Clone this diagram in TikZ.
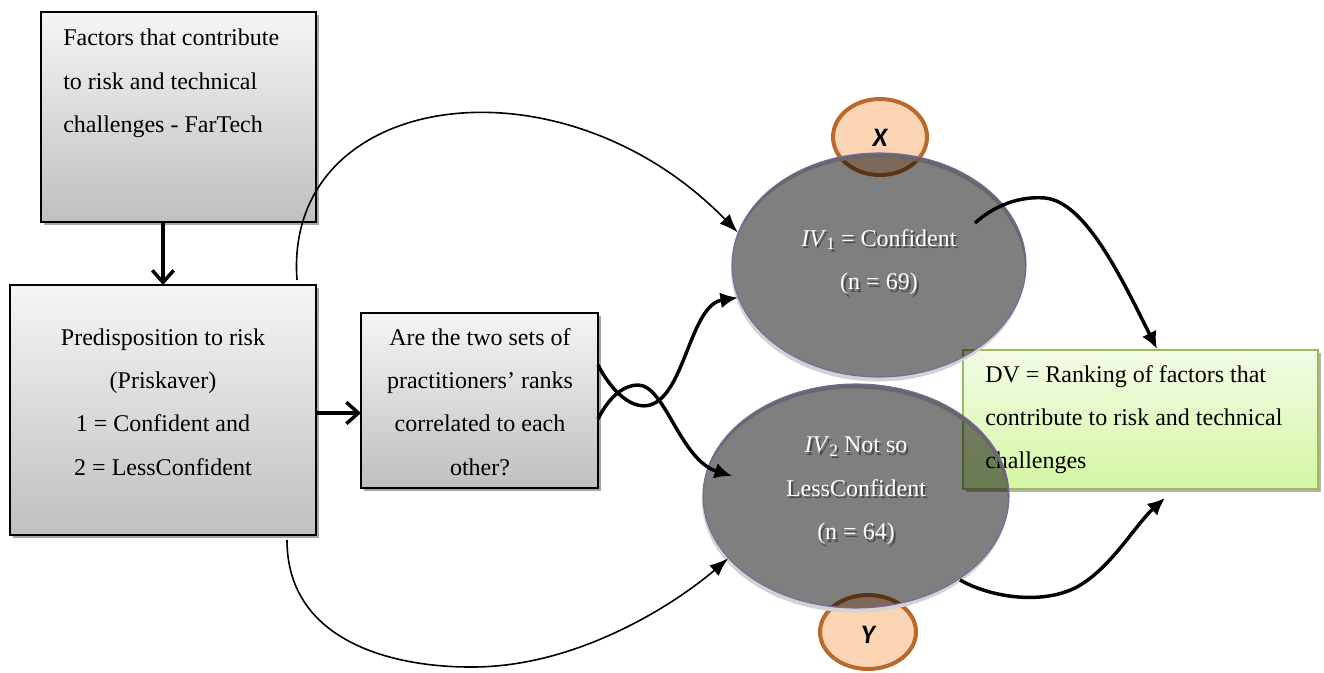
\documentclass[tikz,border=0pt]{standalone}
\usepackage{fontspec}
\setmainfont{Liberation Serif}
\newfontfamily\labelfont{Carlito}
\usetikzlibrary{arrows.meta,shadows,shapes.geometric}

\definecolor{ivpurple}{HTML}{8064A2}
\definecolor{peach}{HTML}{FBD4B4}
\definecolor{rust}{HTML}{B8692B}
\definecolor{olive}{HTML}{9BBB59}
\definecolor{limetop}{HTML}{F2FCE6}
\definecolor{limebot}{HTML}{D4F6A2}

\newcommand{\ivsub}[1]{\textit{IV}\raisebox{-0.3ex}{\fontsize{13}{13}\selectfont #1}}

\begin{document}
\begin{tikzpicture}[x=0.75pt,y=-0.75pt,
  box/.style={draw=black, line width=1.3pt, inner sep=0pt, outer sep=0pt,
    top color=gray!8, bottom color=gray!50,
    drop shadow={shadow xshift=2.4pt, shadow yshift=-2.4pt, fill=gray!70, opacity=1}},
  dvbox/.style={draw=olive, line width=1.4pt, inner sep=0pt, outer sep=0pt,
    top color=limetop, bottom color=limebot,
    drop shadow={shadow xshift=2.4pt, shadow yshift=-2.4pt, fill=gray!60, opacity=1}},
  letter/.style={ellipse, draw=rust, line width=3pt, fill=peach, inner sep=0pt},
  oval/.style={ellipse, draw=ivpurple, line width=0.8pt, fill=black, fill opacity=0.5,
    draw opacity=1, inner sep=0pt},
  ovalshade/.style={fill=gray!35, even odd rule},
  txt/.style={font=\fontsize{18}{32.5}\selectfont, inner sep=0pt},
  lettertxt/.style={font=\labelfont\bfseries\itshape\fontsize{20}{22}\selectfont, inner sep=0pt},
  whitetxt/.style={txt, align=center, text=white},
  shadetxt/.style={txt, align=center, text=black!85, text opacity=0.6},
  thinarrow/.style={line width=1.2pt, -{Latex[length=14pt,width=10.5pt]}},
  thickarrow/.style={line width=2.6pt, -{Latex[length=13pt,width=12pt]}},
  barbarrow/.style={line width=2.6pt, -{Straight Barb[length=9pt,width=16pt]}}
]
\useasboundingbox (0,0) rectangle (1324,673);

% rectangular boxes
\node[box, minimum width=206.25pt, minimum height=157.5pt] (far) at (178.5,117) {};
\node[box, minimum width=229.5pt, minimum height=187.5pt] (pri) at (163,410) {};
\node[box, minimum width=177.75pt, minimum height=131.25pt] (q) at (479.5,400.5) {};
\node[dvbox, minimum width=266.25pt, minimum height=104.25pt] (dv) at (1140.5,419.5) {};

\node[txt, anchor=north west, align=left] (fartxt) at (63,29)
  {Factors that contribute\\to risk and technical\\challenges - FarTech};
\node[txt, align=center] (pritxt) at (163,402)
  {Predisposition to risk\\(Priskaver)\\1 = Confident and\\2 = LessConfident};
\node[txt, align=center] (qtxt) at (480,402)
  {Are the two sets of\\practitioners’ ranks\\correlated to each\\other?};
\node[txt, anchor=north west, align=left] (dvtxt) at (985,365)
  {DV = Ranking of factors that\\contribute to risk and technical\\challenges};

% X and Y markers
\node[letter, minimum width=70.5pt, minimum height=57pt] (x) at (880,137) {};
\node[lettertxt] (xtxt) at (880,138) {X};
\node[letter, minimum width=72pt, minimum height=55.5pt] (y) at (868,632) {};
\node[lettertxt] (ytxt) at (868,635) {Y};

% the two group ovals with their rims
\fill[ovalshade] (878,269.5) ellipse [x radius=110.25pt, y radius=84pt]
                 (879,265) ellipse [x radius=110.25pt, y radius=84pt];
\node[oval, minimum width=220.5pt, minimum height=168pt] (iv1) at (879,265) {};
\fill[ovalshade] (855,500.5) ellipse [x radius=114.75pt, y radius=84pt]
                 (856,496) ellipse [x radius=114.75pt, y radius=84pt];
\node[oval, minimum width=229.5pt, minimum height=168pt] (iv2) at (856,496) {};

\node[shadetxt] (iv1sh) at (881,264.5) {\ivsub{1} = Confident\\(n = 69)};
\node[whitetxt] (iv1txt) at (879,262) {\ivsub{1} = Confident\\(n = 69)};
\node[shadetxt] (iv2sh) at (858,493.5) {\ivsub{2} Not so\\LessConfident\\(n = 64)};
\node[whitetxt] (iv2txt) at (856,491) {\ivsub{2} Not so\\LessConfident\\(n = 64)};

% connector end points
\coordinate (bc) at (316,413);
\coordinate (arcs) at (297,280);
\coordinate (arcb) at (287,540);
\coordinate (qa) at (598,365);
\coordinate (qb) at (598,419);
\coordinate (iv2in) at (732,476);
\coordinate (iv1out) at (975,223);
\coordinate (iv2out) at (960,580);
\coordinate (dvtop) at (1157,349);
\coordinate (dvbot) at (1165,498);

% straight arrows
\draw[barbarrow] (far.south -| pri.north) -- (pri.north);
\draw[barbarrow] (bc) -- (bc -| q.west);

% long arcs around the question box
\draw[thinarrow] (arcs) .. controls (283,90) and (560,50) .. (iv1.167);
\draw[thinarrow] (arcb) .. controls (287,640) and (390,667) .. (470,667)
                 .. controls (580,668) and (680,600) .. (iv2.206);

% crossing curves out of the question box
\draw[thickarrow] (qa) .. controls (612,392) and (632,410) .. (650,405)
                  .. controls (685,395) and (690,305) .. (iv1.193.5);
\draw[thickarrow] (qb) .. controls (610,395) and (625,385) .. (638,385)
                  .. controls (665,385) and (680,460) .. (iv2in);

% from the ovals to the ranking box
\draw[thickarrow] (iv1out) .. controls (995,205) and (1020,196) .. (1045,198)
                  .. controls (1085,202) and (1120,275) .. (dvtop);
\draw[thickarrow] (iv2out) .. controls (990,597) and (1040,605) .. (1075,588)
                  .. controls (1110,570) and (1135,525) .. (dvbot);
\end{tikzpicture}
\end{document}
